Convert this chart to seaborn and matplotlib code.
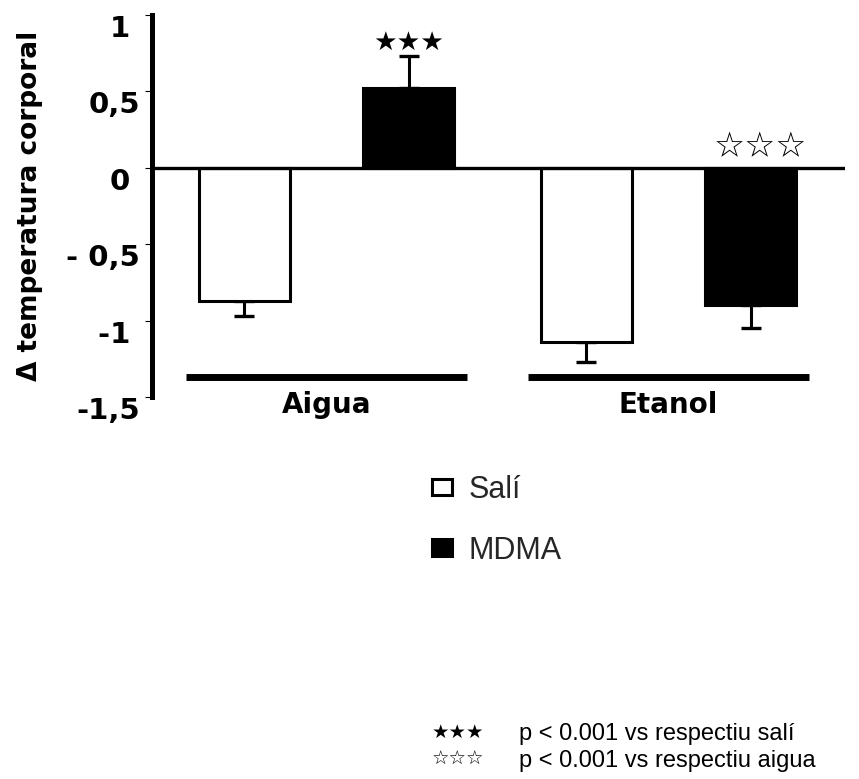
import matplotlib
matplotlib.use('Agg')
import matplotlib.pyplot as plt
import seaborn as sns
import pandas as pd
import numpy as np

# ---- data ----
groups = ['Aigua', 'Etanol']
treatments = ['Salí', 'MDMA']
sali_mean = [-0.87, -1.14]
sali_err = [0.10, 0.13]
mdma_mean = [0.52, -0.90]
mdma_err = [0.21, 0.15]
yticks = [1, 0.5, 0, -0.5, -1, -1.5]
ytick_labels = ['1 ', '0,5', '0 ', '- 0,5', '-1 ', '-1,5']
ylabel = 'Δ temperatura corporal'
sig_filled = '★★★'
sig_open = '☆☆☆'
note_lines = ['p < 0.001 vs respectiu salí', 'p < 0.001 vs respectiu aigua']
colors = {'Salí': 'white', 'MDMA': 'black'}

df = pd.DataFrame({
    'grup': groups * 2,
    'tractament': [treatments[0]] * 2 + [treatments[1]] * 2,
    'valor': sali_mean + mdma_mean,
    'err': sali_err + mdma_err,
})

sns.set_theme(style='white')
plt.rcParams['font.family'] = ['DejaVu Sans']

W, H = 859, 779
fig = plt.figure(figsize=(W / 100, H / 100), dpi=100)
fig.patch.set_facecolor('white')
ax = fig.add_axes([152 / W, 1 - 397 / H, (845 - 152) / W, (397 - 15) / H])

sns.barplot(data=df, x='grup', y='valor', hue='tractament', order=groups,
            hue_order=treatments, palette=colors, saturation=1,
            edgecolor='black', linewidth=2.2, width=0.96, gap=0.45,
            errorbar=None, legend=False, ax=ax, zorder=2)

# one-sided error bars
for cont, t in zip(ax.containers, treatments):
    sub = df[df.tractament == t].set_index('grup').loc[groups]
    xs = [b.get_x() + b.get_width() / 2 for b in cont]
    vals = sub.valor.values
    errs = sub.err.values
    lower = np.where(vals < 0, errs, 0)
    upper = np.where(vals >= 0, errs, 0)
    ax.errorbar(xs, vals, yerr=[lower, upper], fmt='none', ecolor='black',
                elinewidth=2.2, capsize=7, capthick=2.4, zorder=1)

# significance stars
mx = [b.get_x() + b.get_width() / 2 for b in ax.containers[1]]
ax.text(mx[0], mdma_mean[0] + mdma_err[0] + 0.09, sig_filled, ha='center',
        va='center', fontsize=19, color='black')
ax.text(mx[1] + 0.03, 0.137, sig_open, ha='center', va='center', fontsize=25,
        color='black')

# zero line
ax.axhline(0, color='black', lw=2.4, zorder=3)

# group lines
for i, g in enumerate(groups):
    ax.plot([i - 0.41, i + 0.41], [-1.366, -1.366], color='black', lw=5,
            solid_capstyle='butt', clip_on=False, zorder=3)

ax.set_xlim(-0.51, 1.516)
ax.set_ylim(-1.5, 1)
for s in ['top', 'right', 'bottom']:
    ax.spines[s].set_visible(False)
ax.spines['left'].set_linewidth(3.6)
ax.spines['left'].set_color('black')

ax.set_yticks(yticks)
ax.set_yticklabels(ytick_labels, fontweight='bold', fontsize=21)
for lab in ax.get_yticklabels():
    lab.set_va('top')
ax.tick_params(axis='y', direction='out', length=5, width=0.8, color='black',
               pad=3.5, left=True, labelcolor='black')
ax.set_xticks(range(len(groups)))
ax.set_xticklabels(groups, fontweight='bold', fontsize=20)
ax.tick_params(axis='x', length=0, pad=-4, bottom=False, labelcolor='black')
ax.set_xlabel('')
ax.set_ylabel(ylabel, fontsize=19, fontweight='bold', color='black')
ax.yaxis.set_label_coords(-0.157, 0.5)

# legend
handles = [cont[0] for cont in ax.containers]
fig.legend(handles, treatments, loc='upper left',
           bbox_to_anchor=(432 / W, 1 - 475 / H), frameon=False,
           prop={'family': 'Liberation Sans', 'size': 22},
           handlelength=0.65, handleheight=0.46, handletextpad=0.55,
           labelspacing=1.0, borderpad=0, borderaxespad=0)

# footnote
fig.text(458 / W, 1 - 732 / H, sig_filled, ha='center', va='center',
         fontsize=14, color='black')
fig.text(458 / W, 1 - 759 / H, sig_open, ha='center', va='center',
         fontsize=14, color='black')
fig.text(519 / W, 1 - 734 / H, note_lines[0], ha='left', va='center',
         family='Liberation Sans', fontsize=17, color='black')
fig.text(519 / W, 1 - 761 / H, note_lines[1], ha='left', va='center',
         family='Liberation Sans', fontsize=17, color='black')

fig.savefig('out.png', dpi=100, facecolor='white')
